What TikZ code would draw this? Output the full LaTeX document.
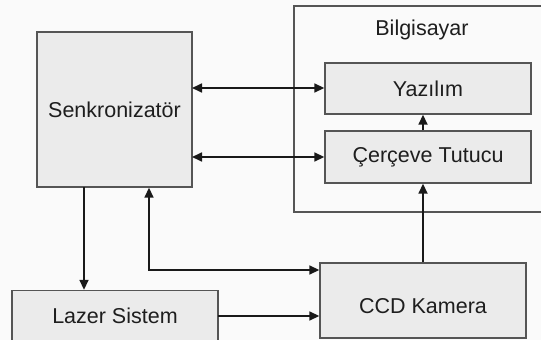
\documentclass[tikz,border=0pt]{standalone}
\usepackage{fontspec}
\setmainfont{Liberation Sans}
\usetikzlibrary{arrows.meta,calc}
\definecolor{bg}{HTML}{FAFAFA}
\definecolor{boxfill}{HTML}{EBEBEB}
\definecolor{boxline}{HTML}{555555}
\definecolor{txt}{HTML}{1E1E1E}
\begin{document}
\begin{tikzpicture}[x=1pt,y=-1pt,
  lbl/.style={text=txt,font=\fontsize{21.5}{25}\selectfont},
  blk/.style={draw=boxline,fill=boxfill,line width=1.4pt,inner sep=0pt,lbl},
  conn/.style={draw=black!90,line width=1.7pt,arrows={-Triangle[length=10pt,width=9pt]}},
  dconn/.style={draw=black!90,line width=1.7pt,arrows={Triangle[length=10pt,width=9pt]-Triangle[length=10pt,width=9pt]}}]
\fill[bg] (0,0) rectangle (541,340);
\useasboundingbox (0,0) rectangle (541,340);
% computer frame
\draw[draw=boxline,line width=1.4pt,fill=bg] (294,6) rectangle (560,212);
\node[lbl] (bil) at (422,30) {Bilgisayar};
\node[blk,minimum width=155pt,minimum height=155pt] (senk) at (114.5,109.5) {Senkronizatör};
\node[blk,minimum width=206pt,minimum height=55pt] (laz) at (115,318) {};
\node[lbl] (lazt) at (115,316) {Lazer Sistem};
\node[blk,minimum width=206pt,minimum height=51pt] (yaz) at (428,88.5) {Yazılım};
\node[blk,minimum width=206pt,minimum height=52pt] (cer) at (428,157) {Çerçeve Tutucu};
\node[blk,minimum width=206pt,minimum height=75pt] (ccd) at (423,300.5) {};
\node[lbl] (ccdt) at (423,306) {CCD Kamera};
% connectors
\coordinate (s1) at (192,88);
\coordinate (s2) at (192,157);
\draw[dconn] (s1) -- (yaz.west |- s1);
\draw[dconn] (s2) -- (cer.west |- s2);
\draw[conn] (ccd.north -| 423,0) -- (cer.south -| 423,0);
\draw[conn] (cer.north -| 423,0) -- (yaz.south -| 423,0);
\coordinate (d1) at (84,187);
\draw[conn] (d1) -- (laz.north -| d1);
\coordinate (k1) at (149,270);
\draw[dconn] (ccd.west |- k1) -- (k1) -- (senk.south -| k1);
\coordinate (l1) at (218,316);
\draw[conn] (l1) -- (ccd.west |- l1);
\end{tikzpicture}
\end{document}
